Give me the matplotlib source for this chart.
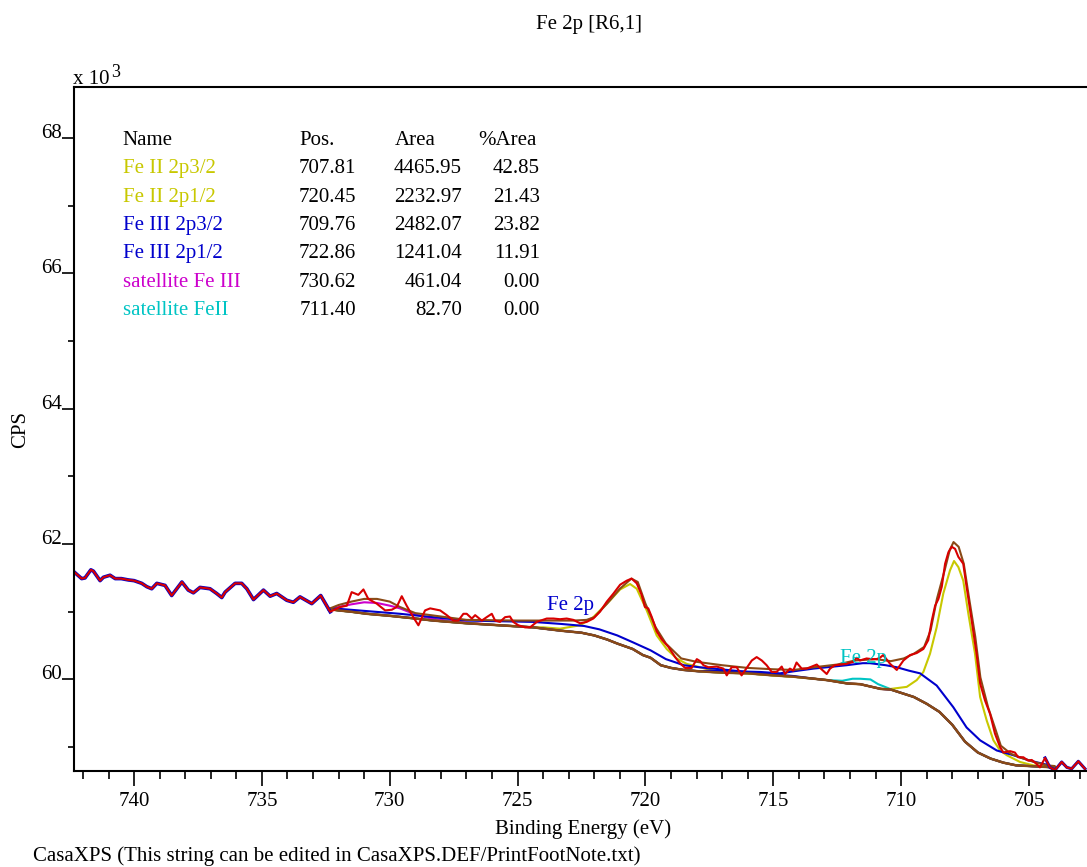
import numpy as np
import matplotlib
matplotlib.use("Agg")
import matplotlib.pyplot as plt
from matplotlib.ticker import MultipleLocator

plt.rcParams['font.family'] = ['Liberation Serif', 'DejaVu Serif']

# ---------------- measured spectrum (binding energy, kCPS) ----------------
data_be = [742.35, 742.05, 741.92, 741.69, 741.59, 741.33, 741.20, 740.94, 740.74, 740.50,
           740.22, 740.00, 739.70, 739.50, 739.31, 739.11, 738.79, 738.53, 738.13, 737.88,
           737.68, 737.42, 737.03, 736.77, 736.57, 736.44, 736.05, 735.79, 735.59, 735.33,
           734.94, 734.68, 734.42, 734.03, 733.77, 733.51, 733.05, 732.70, 732.33, 731.94,
           731.68, 731.49, 731.23, 731.03, 730.84, 730.51, 730.18, 729.92, 729.73, 729.53,
           729.34, 729.08, 728.88, 728.62, 728.42, 728.03, 727.77, 727.51, 727.32, 727.12,
           726.99, 726.79, 726.66, 726.40, 726.21, 726.01, 725.88, 725.69, 725.49, 725.30,
           725.17, 724.97, 724.71, 724.51, 724.25, 723.86, 723.60, 723.34, 723.08, 722.82,
           722.56, 722.30, 722.04, 721.78, 721.51, 721.25, 720.99, 720.73, 720.54, 720.34,
           720.15, 720.02, 719.89, 719.75, 719.56, 719.36, 719.10, 718.84, 718.65, 718.45,
           718.19, 717.99, 717.86, 717.73, 717.54, 717.21, 716.95, 716.82, 716.63, 716.43,
           716.24, 716.04, 715.84, 715.65, 715.45, 715.26, 715.06, 714.87, 714.67, 714.54,
           714.35, 714.22, 714.09, 713.89, 713.69, 713.50, 713.30, 713.17, 712.91, 712.78,
           712.59, 712.32, 712.13, 711.87, 711.74, 711.61, 711.35, 711.15, 710.96, 710.83,
           710.70, 710.43, 710.17, 709.91, 709.65, 709.39, 709.13, 708.94, 708.80, 708.67,
           708.54, 708.41, 708.28, 708.15, 708.02, 707.89, 707.76, 707.57, 707.44, 707.24,
           707.05, 706.91, 706.72, 706.52, 706.33, 706.13, 706.00, 705.74, 705.55, 705.42,
           705.22, 705.03, 704.89, 704.70, 704.57, 704.37, 704.18, 703.98, 703.72, 703.52,
           703.33, 703.07, 702.81]
data_cps = [61.59, 61.49, 61.50, 61.62, 61.60, 61.46, 61.51, 61.54, 61.49, 61.49,
            61.47, 61.46, 61.42, 61.37, 61.34, 61.42, 61.39, 61.24, 61.44, 61.32,
            61.28, 61.36, 61.34, 61.27, 61.21, 61.29, 61.42, 61.42, 61.34, 61.18,
            61.32, 61.23, 61.27, 61.17, 61.14, 61.22, 61.12, 61.24, 61.00, 61.07,
            61.09, 61.29, 61.25, 61.33, 61.19, 61.12, 61.02, 61.03, 61.07, 61.23,
            61.09, 60.92, 60.80, 61.02, 61.05, 61.02, 60.95, 60.87, 60.87, 60.97,
            60.97, 60.90, 60.95, 60.87, 60.92, 60.97, 60.87, 60.85, 60.92, 60.93,
            60.85, 60.80, 60.77, 60.77, 60.85, 60.90, 60.90, 60.89, 60.90, 60.88,
            60.83, 60.85, 60.90, 61.00, 61.15, 61.27, 61.40, 61.46, 61.49, 61.42,
            61.25, 61.07, 61.05, 60.92, 60.71, 60.59, 60.48, 60.33, 60.24, 60.17,
            60.17, 60.30, 60.27, 60.21, 60.18, 60.19, 60.16, 60.06, 60.18, 60.18,
            60.06, 60.17, 60.28, 60.33, 60.28, 60.21, 60.11, 60.11, 60.19, 60.08,
            60.16, 60.13, 60.25, 60.16, 60.16, 60.19, 60.22, 60.17, 60.08, 60.16,
            60.21, 60.22, 60.23, 60.26, 60.32, 60.28, 60.31, 60.30, 60.30, 60.32,
            60.36, 60.23, 60.14, 60.28, 60.36, 60.39, 60.45, 60.58, 60.87, 61.09,
            61.19, 61.37, 61.71, 61.88, 61.96, 61.93, 61.81, 61.71, 61.37, 60.87,
            60.38, 59.94, 59.69, 59.49, 59.20, 59.00, 58.92, 58.94, 58.92, 58.85,
            58.85, 58.80, 58.81, 58.75, 58.70, 58.84, 58.70, 58.66, 58.78, 58.70,
            58.68, 58.79, 58.68]

# fit region limits (eV)
region = (732.4, 704.0)

# ---------------- Shirley background ----------------
bg_be = [732.4, 732.0, 731.5, 730.9, 730.0, 729.0, 728.3, 727.0, 725.7, 724.4,
         723.3, 722.5, 722.0, 721.5, 721.1, 720.5, 720.1, 719.8, 719.4, 719.0,
         718.5, 717.9, 717.0, 716.0, 715.0, 714.2, 713.4, 712.9, 712.1, 711.6,
         710.8, 710.4, 709.5, 709.0, 708.5, 708.0, 707.5, 707.0, 706.5, 706.0,
         705.5, 705.0, 704.0]
bg_cps = [61.04, 61.02, 61.00, 60.97, 60.94, 60.90, 60.87, 60.83, 60.80, 60.77,
          60.72, 60.69, 60.65, 60.59, 60.53, 60.45, 60.36, 60.32, 60.21, 60.17,
          60.14, 60.12, 60.10, 60.09, 60.06, 60.04, 60.01, 59.99, 59.94, 59.93,
          59.86, 59.85, 59.74, 59.64, 59.52, 59.33, 59.08, 58.92, 58.83, 58.77,
          58.73, 58.72, 58.70]

# ---------------- envelope ----------------
env_be = [732.4, 732.0, 731.5, 731.0, 730.5, 730.0, 729.6, 729.0, 728.4, 727.0,
          725.0, 723.5, 722.8, 722.3, 722.0, 721.5, 721.0, 720.55, 720.3, 720.0,
          719.6, 719.2, 718.6, 718.0, 717.0, 716.0, 715.0, 714.2, 713.4, 712.5,
          711.8, 711.0, 710.4, 709.9, 709.5, 709.1, 708.85, 708.6, 708.3, 708.1,
          707.95, 707.75, 707.55, 707.35, 707.1, 706.9, 706.6, 706.3, 706.1, 705.7,
          705.3, 704.8, 704.3, 704.0]
env_cps = [61.04, 61.10, 61.15, 61.19, 61.19, 61.15, 61.07, 60.98, 60.95, 60.88,
           60.87, 60.87, 60.87, 60.88, 60.92, 61.12, 61.34, 61.49, 61.44, 61.12,
           60.77, 60.53, 60.31, 60.26, 60.21, 60.17, 60.15, 60.14, 60.18, 60.22,
           60.28, 60.30, 60.27, 60.31, 60.38, 60.48, 60.72, 61.19, 61.61, 61.91,
           62.03, 61.96, 61.71, 61.22, 60.63, 60.03, 59.59, 59.25, 59.02, 58.90,
           58.84, 58.78, 58.73, 58.72]

# ---------------- components: the part of each curve that rises above background ----------------
fe2_32_be = [710.4, 709.78, 709.39, 709.13, 708.87, 708.61, 708.35, 708.09, 707.93, 707.76,
             707.57, 707.37, 707.11, 706.91, 706.65, 706.39, 706.13, 705.87, 705.35, 704.83]
fe2_32_cps = [59.86, 59.89, 59.99, 60.11, 60.38, 60.77, 61.27, 61.61, 61.75, 61.66,
              61.46, 60.97, 60.38, 59.74, 59.39, 59.10, 58.95, 58.88, 58.78, 58.73]

fe2_12_be = [724.0, 723.34, 722.56, 722.04, 721.38, 720.99, 720.60, 720.34, 719.95, 719.56,
             719.17, 718.78, 718.39, 717.86, 717.47]
fe2_12_cps = [60.77, 60.75, 60.80, 60.92, 61.17, 61.33, 61.41, 61.34, 61.02, 60.65,
              60.45, 60.31, 60.23, 60.18, 60.14]

fe3_32_be = [717.5, 716.5, 715.5, 714.74, 714.2, 713.43, 712.9, 712.13, 711.5, 711.22,
             710.6, 710.17, 709.7, 709.26, 708.61, 707.96, 707.44, 706.91, 706.26, 705.61,
             704.96, 704.31]
fe3_32_cps = [60.13, 60.12, 60.11, 60.09, 60.12, 60.16, 60.18, 60.21, 60.24, 60.24,
              60.21, 60.18, 60.13, 60.09, 59.91, 59.59, 59.29, 59.10, 58.95, 58.88,
              58.80, 58.74]

fe3_12_be = [732.2, 730.9, 729.6, 728.3, 727.0, 725.7, 724.4, 723.3, 722.4, 721.8,
             721.1, 720.5, 719.8, 719.2, 718.5, 717.9, 716.8, 715.5, 714.2]
fe3_12_cps = [61.05, 61.01, 60.97, 60.92, 60.87, 60.86, 60.85, 60.82, 60.79, 60.74,
              60.65, 60.55, 60.43, 60.30, 60.21, 60.18, 60.14, 60.09, 60.05]

sat3_be = [732.0, 731.5, 731.0, 730.5, 730.0, 729.6, 729.0, 728.5, 728.0, 727.0]
sat3_cps = [61.07, 61.11, 61.14, 61.13, 61.09, 61.05, 60.96, 60.91, 60.88, 60.84]

sat2_be = [712.3, 711.9, 711.6, 711.2, 710.9, 710.5]
sat2_cps = [59.98, 60.01, 60.01, 60.00, 59.93, 59.87]

# ---------------- peak table ----------------
peak_names = ["Fe II 2p3/2", "Fe II 2p1/2", "Fe III 2p3/2", "Fe III 2p1/2",
              "satellite Fe III", "satellite FeII"]
peak_pos = [707.81, 720.45, 709.76, 722.86, 730.62, 711.40]
peak_area = [4465.95, 2232.97, 2482.07, 1241.04, 461.04, 82.70]
peak_pct = [42.85, 21.43, 23.82, 11.91, 0.00, 0.00]

YELLOW = '#C8C800'
BLUE = '#0000CC'
MAGENTA = '#CC00CC'
CYAN = '#00C4C4'
RED = '#D80000'
BROWN = '#8A4A16'
peak_colors = [YELLOW, YELLOW, BLUE, BLUE, MAGENTA, CYAN]


def on_background(seg_be, seg_cps):
    """Join a component's raised segment with the background points outside it."""
    lo, hi = min(seg_be), max(seg_be)
    pts = [(e, v) for e, v in zip(bg_be, bg_cps) if e > hi or e < lo]
    pts += list(zip(seg_be, seg_cps))
    pts.sort(key=lambda p: -p[0])
    return [p[0] for p in pts], [p[1] for p in pts]


W, H = 1087, 867
fig = plt.figure(figsize=(W / 100, H / 100), dpi=100)
ax = fig.add_axes([74 / W, (H - 770.5) / H, 1 - 74 / W, (770.5 - 86.7) / H])

lw = 1.5
components = [(sat3_be, sat3_cps, MAGENTA), (sat2_be, sat2_cps, CYAN),
              (fe2_12_be, fe2_12_cps, YELLOW), (fe2_32_be, fe2_32_cps, YELLOW),
              (fe3_12_be, fe3_12_cps, BLUE), (fe3_32_be, fe3_32_cps, BLUE)]
for seg_be, seg_cps, col in components:
    x, y = on_background(seg_be, seg_cps)
    ax.plot(x, y, color=col, lw=lw)
ax.plot(bg_be, bg_cps, color=BROWN, lw=lw + 0.3)
ax.plot(env_be, env_cps, color=BROWN, lw=lw)

# spectrum outside the fit region is shown in blue beneath the red trace
be = np.array(data_be)
cps = np.array(data_cps)
left = be >= region[0] - 0.1
right = be <= region[1] + 0.4
ax.plot(be[left], cps[left], color=BLUE, lw=2.6)
ax.plot(be[right], cps[right], color=BLUE, lw=2.2)
ax.plot(be, cps, color=RED, lw=lw)

# region labels
ax.text(723.86, 61.03, "Fe 2p", color=BLUE, fontsize=15, ha='left', va='baseline')
ax.text(712.39, 60.24, "Fe 2p", color=CYAN, fontsize=15, ha='left', va='baseline')

ax.set_xlim(742.35, 702.73)
ax.set_ylim(58.654, 68.76)

ax.xaxis.set_major_locator(MultipleLocator(5))
ax.xaxis.set_minor_locator(MultipleLocator(1))
ax.yaxis.set_major_locator(MultipleLocator(2))
ax.yaxis.set_minor_locator(MultipleLocator(1))
ax.tick_params(axis='x', which='major', direction='out', length=10.8, width=1.2,
               labelsize=15, pad=5)
ax.tick_params(axis='x', which='minor', direction='out', length=5.8, width=1.2)
ax.tick_params(axis='y', which='major', direction='out', length=8.6, width=1.2,
               labelsize=15, pad=0)
ax.tick_params(axis='y', which='minor', direction='out', length=4.3, width=1.2)
ax.xaxis.set_major_formatter(plt.FuncFormatter(lambda v, p: f"{v:.0f}"))
ax.yaxis.set_major_formatter(plt.FuncFormatter(lambda v, p: f"{v:.0f}"))
for lab in ax.get_yticklabels():
    lab.set_verticalalignment('baseline')

for side in ('left', 'bottom', 'top'):
    ax.spines[side].set_linewidth(1.5)
ax.spines['right'].set_visible(False)

# axis titles and annotations
fig.text(589 / W, 1 - 25 / H, "Fe 2p [R6,1]", fontsize=15, ha='center', va='center')
fig.text(583 / W, 1 - 829 / H, "Binding Energy (eV)", fontsize=15, ha='center', va='center')
fig.text(21 / W, 1 - 430 / H, "CPS", fontsize=15, rotation=90, ha='center', va='center')
fig.text(33 / W, 1 - 856 / H,
         "CasaXPS (This string can be edited in CasaXPS.DEF/PrintFootNote.txt)",
         fontsize=15, ha='left', va='center')
fig.text(73 / W, 1 - 84 / H, "x 10", fontsize=15, ha='left', va='baseline')
fig.text(111 / W, 1 - 64 / H, "3", fontsize=13, ha='left', va='top')

# peak table
row0 = 145.0
dy = 28.3
fig.text(122.7 / W, 1 - row0 / H, "Name", fontsize=15, ha='left', va='baseline')
fig.text(299.3 / W, 1 - row0 / H, "Pos.", fontsize=15, ha='left', va='baseline')
fig.text(395 / W, 1 - row0 / H, "Area", fontsize=15, ha='left', va='baseline')
fig.text(478.3 / W, 1 - row0 / H, "%Area", fontsize=15, ha='left', va='baseline')
for i, (nm, ps, ar, pc, col) in enumerate(zip(peak_names, peak_pos, peak_area,
                                               peak_pct, peak_colors)):
    yb = 1 - (row0 + dy * (i + 1)) / H
    fig.text(122.7 / W, yb, nm, fontsize=15, color=col, ha='left', va='baseline')
    fig.text(356 / W, yb, f"{ps:.2f}", fontsize=15, ha='right', va='baseline')
    fig.text(461.7 / W, yb, f"{ar:.2f}", fontsize=15, ha='right', va='baseline')
    fig.text(540 / W, yb, f"{pc:.2f}", fontsize=15, ha='right', va='baseline')

fig.savefig("out.png", dpi=100)
